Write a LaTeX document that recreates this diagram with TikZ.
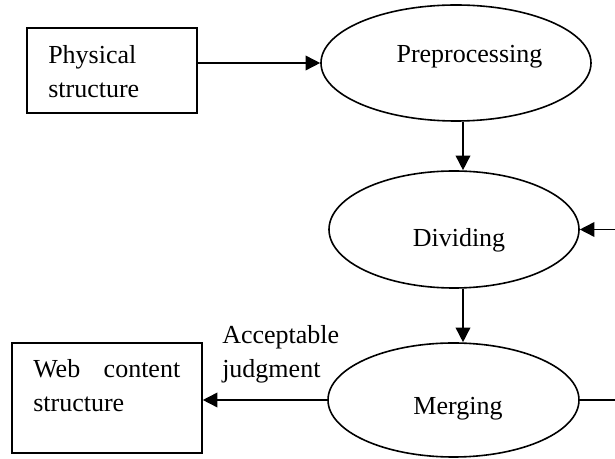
\documentclass[tikz,border=0pt]{standalone}
\usepackage{fontspec}
\setmainfont{Liberation Serif}
\usetikzlibrary{shapes.geometric,arrows.meta}

\begin{document}
\begin{tikzpicture}[x=0.75pt,y=-0.75pt,
    font=\fontsize{19.5}{25.5}\selectfont,
    stage/.style={ellipse, draw, line width=1.2pt, inner sep=0pt},
    box/.style={rectangle, draw, line width=1.2pt, inner sep=0pt},
    txt/.style={inner sep=0pt},
    flow/.style={line width=1.2pt, -{Triangle[length=11pt,width=11pt]}}]
    \useasboundingbox (0,0) rectangle (615,459);

    % Input box
    \node[box, minimum width=127.5pt, minimum height=63.75pt] (phys) at (112,70.5) {};
    \node[txt, align=left, anchor=north west] (physlbl) at (48,45) {Physical\\structure};

    % Output box
    \node[box, minimum width=142.5pt, minimum height=82.5pt] (web) at (107,398) {};
    \node[txt, text width=110.25pt, align=left, anchor=north west] (weblbl) at (33,359) {Web\hfill content\\structure};

    % The three stages
    \node[stage, minimum width=202.5pt, minimum height=87pt] (pre) at (456,63) {};
    \node[txt, anchor=base] (prelbl) at (469.5,63) {Preprocessing};

    \node[stage, minimum width=187.5pt, minimum height=87.75pt] (div) at (454,229.5) {};
    \node[txt, anchor=base] (divlbl) at (459,247) {Dividing};

    \node[stage, minimum width=188.25pt, minimum height=85.5pt] (merge) at (453.5,400) {};
    \node[txt, anchor=base] (mergelbl) at (458,415) {Merging};

    % Label over the output arrow
    \node[txt, align=left, anchor=north west] (acc) at (222,325) {Acceptable\\judgment};

    % Connectors
    \coordinate (spine) at (463,0);
    \coordinate (fbin) at (615,229.5);
    \coordinate (fbout) at (615,403);

    \draw[flow] (pre.west -| phys.east) -- (pre.west);
    \draw[flow] (pre.south -| spine) -- (div.north -| spine);
    \draw[flow] (div.south -| spine) -- (merge.north -| spine);
    \draw[flow] (fbin) -- (div.east);
    \draw[line width=1.2pt] (merge.east) -- (merge.east -| fbout);
    \draw[flow] (merge.west) -- (merge.west -| web.east);
\end{tikzpicture}
\end{document}
